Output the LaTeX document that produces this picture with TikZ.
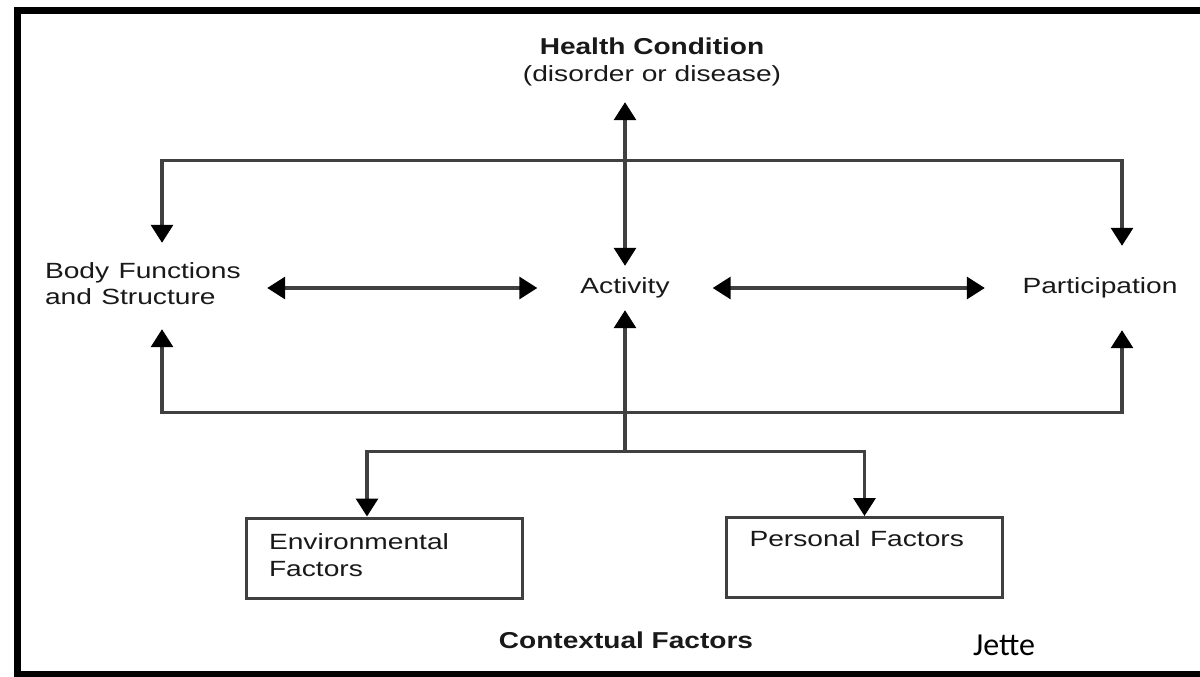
\documentclass[tikz,border=0pt]{standalone}
\usepackage{graphicx}
\usepackage{fontspec}
\setmainfont{Liberation Sans}
\newfontfamily\calibfont{Carlito}
\usetikzlibrary{arrows.meta}
\newcommand\stx[1]{\scalebox{1.28}[1]{#1}}
\newcommand\stb[1]{\scalebox{1.22}[1]{#1}}
\begin{document}
\begin{tikzpicture}[x=1pt,y=-1pt,
  lbl/.style={inner sep=0pt, text=black!90, font=\fontsize{22}{26}\selectfont},
  conn/.style={draw=black!75, line width=3.2pt},
  tipd/.style={conn, {Triangle[width=22pt,length=18pt,color=black]}-{Triangle[width=22pt,length=18pt,color=black]}},
  tips/.style={conn, -{Triangle[width=22pt,length=18pt,color=black]}},
  fbox/.style={draw=black!75, line width=3pt, inner ysep=0pt, inner xsep=23pt,
    minimum height=80pt, text width=230pt, align=left, text=black!90,
    font=\fontsize{22}{27}\selectfont},
  framestyle/.style={draw=black, line width=7pt}
]
\useasboundingbox (0,0) rectangle (1200,677);
\clip (0,0) rectangle (1200,677);
\fill[white] (0,0) rectangle (1200,677);
\draw[framestyle] (17,10.5) rectangle (1215,674.5);

% nodes
\node[lbl, inner ysep=12pt] (hc) at (652,63)
  {\fontsize{23}{27}\selectfont\begin{tabular}{@{}c@{}}\stb{\bfseries Health Condition}\\
   \stx{\fontsize{22}{27}\selectfont (disorder or disease)}\end{tabular}};
\node[lbl, minimum height=86pt, text width=222pt, align=left] (bfs) at (156,286)
  {\stx{\begin{tabular}{@{}l@{}}Body Functions\\and Structure\end{tabular}}};
\node[lbl, minimum width=175pt, minimum height=44pt] (act) at (625,288) {\stx{Activity}};
\node[lbl, minimum width=230pt, minimum height=84pt] (par) at (1100,288) {\stx{Participation}};
\node[fbox] (env) at (384,558)
  {\stx{\begin{tabular}{@{}l@{}}Environmental\\Factors\end{tabular}}};
\node[fbox, text height=20pt, text depth=42pt] (pers) at (864.5,557.5) {\stx{Personal Factors}};
\node[lbl, anchor=base] (ctx) at (626,648)
  {\stb{\fontsize{23}{27}\selectfont\bfseries Contextual Factors}};
\node[inner sep=0pt, anchor=base west, font=\calibfont\fontsize{32}{36}\selectfont] (jt) at (973,655) {Jette};
\coordinate (cj) at (625,453);

% connectors
\draw[tipd] (act.north) -- (act.north |- hc.south);
\draw[tipd] (act.west) -- (act.west -| bfs.east);
\draw[tipd] (act.east) -- (act.east -| par.west);
\draw[tipd] ([xshift=6pt]bfs.north) -- ++(0,-82) -| ([xshift=22pt]par.north);
\draw[tipd] ([xshift=6pt]bfs.south) -- ++(0,83) -| ([xshift=22pt]par.south);
\draw[tips] (cj) -- (act.south);
\draw[tipd] ([xshift=-17pt]env.north) -- ++(0,-65) -| (pers.north);
\end{tikzpicture}
\end{document}
